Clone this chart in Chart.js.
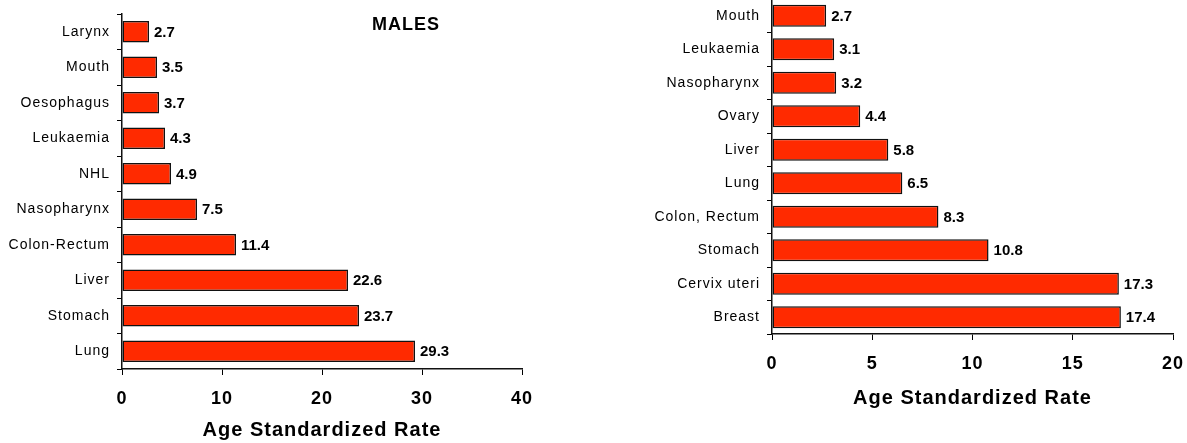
<!DOCTYPE html>
<html>
<head>
<meta charset="utf-8">
<script src="https://cdn.jsdelivr.net/npm/chart.js@4.4.1/dist/chart.umd.min.js"></script>
<style>
  html, body { margin: 0; padding: 0; background: #fff; width: 1187px; height: 443px; overflow: hidden; }
  #males { position: absolute; left: 0; top: 0; }
  #females { position: absolute; left: 600px; top: -1px; }
</style>
</head>
<body>
<canvas id="males" width="560" height="443"></canvas>
<canvas id="females" width="587" height="444"></canvas>
<script>
// Cancer sites and age standardized incidence rates
const maleSites = ['Larynx', 'Mouth', 'Oesophagus', 'Leukaemia', 'NHL', 'Nasopharynx', 'Colon-Rectum', 'Liver', 'Stomach', 'Lung'];
const maleRates = [2.7, 3.5, 3.7, 4.3, 4.9, 7.5, 11.4, 22.6, 23.7, 29.3];

const femaleSites = ['Mouth', 'Leukaemia', 'Nasopharynx', 'Ovary', 'Liver', 'Lung', 'Colon, Rectum', 'Stomach', 'Cervix uteri', 'Breast'];
const femaleRates = [2.7, 3.1, 3.2, 4.4, 5.8, 6.5, 8.3, 10.8, 17.3, 17.4];

const maleTicks = [0, 10, 20, 30, 40];
const femaleTicks = [0, 5, 10, 15, 20];

const rateAxisTitle = 'Age Standardized Rate';
const maleHeading = 'MALES';

const FONT = '"Liberation Sans", Arial, Helvetica, sans-serif';
const BAR_RED = '#ff2a00';

// Wider tracking for the axis texts, plain tracking for the bars' value labels
const tracking = {
  id: 'tracking',
  beforeDraw(chart) { chart.ctx.letterSpacing = '1px'; },
  beforeDatasetsDraw(chart) { chart.ctx.letterSpacing = '0px'; }
};

// Value printed just past the end of each bar
const valueLabels = {
  id: 'valueLabels',
  afterDatasetsDraw(chart) {
    const ctx = chart.ctx;
    const meta = chart.getDatasetMeta(0);
    const data = chart.data.datasets[0].data;
    ctx.save();
    ctx.letterSpacing = '0px';
    ctx.font = 'bold 15px ' + FONT;
    ctx.fillStyle = '#000';
    ctx.textAlign = 'left';
    ctx.textBaseline = 'middle';
    meta.data.forEach((bar, i) => {
      ctx.fillText(data[i].toFixed(1), bar.x + 5, bar.y + 1);
    });
    ctx.restore();
  }
};

// Heading placed inside the plot, toward the upper right
const heading = {
  id: 'heading',
  afterDraw(chart, args, opts) {
    if (!opts.text) return;
    const ctx = chart.ctx;
    const area = chart.chartArea;
    ctx.save();
    ctx.letterSpacing = '1px';
    ctx.font = 'bold 18px ' + FONT;
    ctx.fillStyle = '#000';
    ctx.textAlign = 'center';
    ctx.textBaseline = 'middle';
    ctx.fillText(opts.text, area.left + (area.right - area.left) * 0.71, area.top + 11);
    ctx.restore();
  }
};

function buildChart(canvas, sites, rates, ticks, cfg) {
  return new Chart(canvas, {
    type: 'bar',
    data: {
      labels: sites,
      datasets: [{
        data: rates,
        backgroundColor: BAR_RED,
        borderColor: '#111',
        borderWidth: 1.5,
        borderSkipped: false,
        barPercentage: cfg.barPct,
        categoryPercentage: 1
      }]
    },
    options: {
      indexAxis: 'y',
      responsive: false,
      animation: false,
      devicePixelRatio: 1,
      layout: { padding: cfg.padding },
      plugins: {
        legend: { display: false },
        tooltip: { enabled: false },
        heading: { text: cfg.heading || '' }
      },
      scales: {
        x: {
          type: 'linear',
          min: ticks[0],
          max: ticks[ticks.length - 1],
          afterBuildTicks(scale) { scale.ticks = ticks.map(v => ({ value: v })); },
          ticks: {
            color: '#000',
            padding: cfg.tickPad,
            font: { family: FONT, size: 18, weight: 'bold' }
          },
          grid: {
            drawOnChartArea: false,
            drawTicks: true,
            tickLength: 6,
            color: '#000',
            lineWidth: 1
          },
          border: { display: true, color: '#111', width: 1.5 },
          title: {
            display: true,
            text: rateAxisTitle,
            color: '#000',
            font: { family: FONT, size: 20, weight: 'bold' },
            padding: { top: 0, bottom: cfg.titlePad }
          },
          afterFit(scale) {
            scale.height = cfg.xHeight;
            scale.paddingLeft = 0;
            scale.paddingRight = 0;
          }
        },
        y: {
          ticks: {
            color: '#000',
            padding: 7,
            font: { family: FONT, size: 14 }
          },
          grid: {
            drawOnChartArea: false,
            drawTicks: true,
            tickLength: 5,
            offset: true,
            color: '#000',
            lineWidth: 1
          },
          border: { display: true, color: '#111', width: 1.5 },
          afterFit(scale) {
            scale.width = cfg.yWidth;
            scale.paddingTop = 0;
            scale.paddingBottom = 0;
          }
        }
      }
    },
    plugins: [tracking, valueLabels, heading]
  });
}

buildChart(document.getElementById('males'), maleSites, maleRates, maleTicks, {
  barPct: 0.6,
  padding: { top: 14, right: 38, bottom: 0, left: 0 },
  xHeight: 74,
  yWidth: 122,
  tickPad: 13,
  titlePad: 1,
  heading: maleHeading
});

buildChart(document.getElementById('females'), femaleSites, femaleRates, femaleTicks, {
  barPct: 0.66,
  padding: { top: 0, right: 14, bottom: 0, left: 0 },
  xHeight: 109,
  yWidth: 172,
  tickPad: 13,
  titlePad: 33
});
</script>
</body>
</html>
